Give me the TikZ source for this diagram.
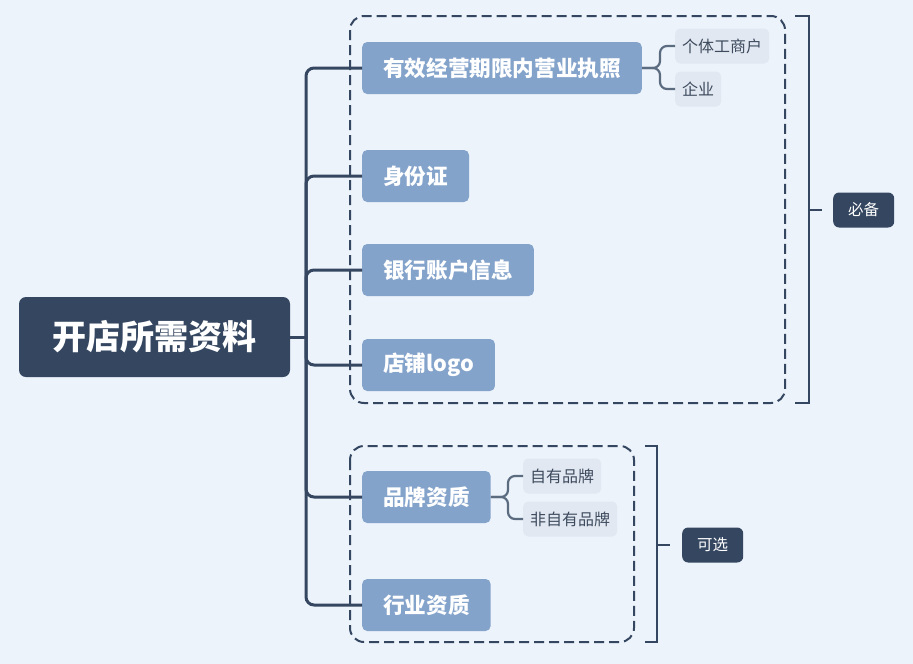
\documentclass[tikz,border=0pt]{standalone}
\usepackage{fontspec}
\setmainfont{Noto Sans CJK SC}
\definecolor{bgblue}{HTML}{ECF3FB}
\definecolor{navy}{HTML}{344660}
\definecolor{steel}{HTML}{84A3CB}
\definecolor{mist}{HTML}{E1E8F1}
\definecolor{inkgray}{HTML}{3E4B5E}
\definecolor{twiggray}{HTML}{5B6B80}
\begin{document}
\begin{tikzpicture}[x=1pt,y=-1pt,
  every node/.style={rectangle,rounded corners=5pt,inner sep=0pt},
  rootbox/.style={fill=navy,text=white,font=\fontsize{34}{38}\selectfont\bfseries,minimum width=271pt,minimum height=80pt,rounded corners=7pt},
  topic/.style={fill=steel,text=white,font=\fontsize{21.6}{25}\selectfont\bfseries,inner xsep=21pt,minimum height=52pt,anchor=west},
  subtopic/.style={fill=mist,text=inkgray,font=\fontsize{16}{19}\selectfont,inner xsep=7pt,minimum height=35pt,anchor=west},
  tagbox/.style={fill=navy,text=white,font=\fontsize{15.5}{18}\selectfont,minimum width=61pt,minimum height=35pt,anchor=west,rounded corners=6pt},
  trunk/.style={draw=navy,line width=3pt,rounded corners=8pt},
  twig/.style={draw=twiggray,line width=2.2pt,rounded corners=7pt},
  group/.style={draw=navy,line width=2pt,dash pattern=on 10pt off 5pt,rounded corners=14pt},
  brace/.style={draw=navy,line width=2.5pt}]
\useasboundingbox[fill=bgblue] (0,0) rectangle (913,664);
% root and trunk
\node[rootbox] (root) at (154.5,337) {开店所需资料};
\coordinate (hub) at (306,337);
\draw[trunk] (root.east) -- (hub);
\foreach \name/\y/\txt in {lic/68/有效经营期限内营业执照, idc/176/身份证, bank/270/银行账户信息, logo/365/店铺logo, brand/497/品牌资质, ind/605/行业资质} {
	\node[topic] (\name) at (362,\y) {\txt};
	\draw[trunk] (hub) |- (\name.west);
}
% sub topics
\node[subtopic] (lic-1) at (675,46) {个体工商户};
\node[subtopic] (lic-2) at (675,89) {企业};
\node[subtopic] (brand-1) at (523,476) {自有品牌};
\node[subtopic] (brand-2) at (523,519) {非自有品牌};
\draw[twig] (lic.east) -- (660,68) |- (lic-1.west);
\draw[twig] (lic.east) -- (660,68) |- (lic-2.west);
\draw[twig] (brand.east) -- (508,497) |- (brand-1.west);
\draw[twig] (brand.east) -- (508,497) |- (brand-2.west);
% groups
\draw[group] (350,16) rectangle (785,403);
\draw[group] (350,446) rectangle (634,642);
\node[tagbox] (must) at (833,210) {必备};
\node[tagbox] (opt) at (682,545) {可选};
\draw[brace] (795,16) -- (809,16) -- (809,403) -- (795,403);
\draw[brace] (809,210) -- ++(13,0);
\draw[brace] (645,446) -- (657,446) -- (657,642) -- (645,642);
\draw[brace] (657,545) -- ++(13,0);
\end{tikzpicture}
\end{document}
